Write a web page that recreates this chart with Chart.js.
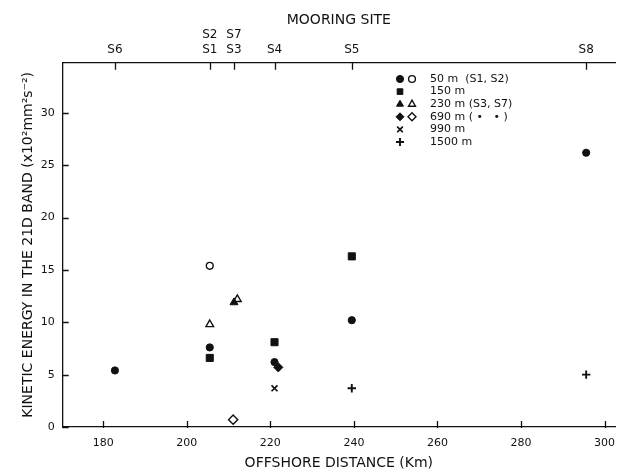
<!DOCTYPE html>
<html>
<head>
<meta charset="utf-8">
<title>Kinetic energy vs offshore distance</title>
<script src="https://cdn.jsdelivr.net/npm/chart.js"></script>
<style>
  html, body { margin: 0; padding: 0; background: #fff; }
  #wrap { width: 629px; height: 472px; }
</style>
</head>
<body>
<div id="wrap"><canvas id="keChart" width="629" height="472"></canvas></div>
<script>
// offshore distance (km) and kinetic energy (x10^2 mm^2 s^-2) per depth
var m50Km = [182.8, 205.5, 221.0, 239.5, 295.6];
var m50Ke = [5.4, 7.6, 6.2, 10.2, 26.2];
var m50OpenKm = [205.5];
var m50OpenKe = [15.4];
var m150Km = [205.5, 221.0, 239.5];
var m150Ke = [6.6, 8.1, 16.3];
var m230Km = [211.3];
var m230Ke = [11.9];
var m230OpenKm = [205.5, 212.1];
var m230OpenKe = [9.8, 12.2];
var m690Km = [221.9];
var m690Ke = [5.7];
var m690OpenKm = [211.1];
var m690OpenKe = [0.7];
var m990Km = [221.0];
var m990Ke = [3.7];
var m1500Km = [239.5, 295.6];
var m1500Ke = [3.7, 5.0];

// mooring sites along the top axis
var siteKm = [182.8, 205.5, 211.3, 221.0, 239.5, 295.6];
var siteLabels = [['S6'], ['S2', 'S1'], ['S7', 'S3'], ['S4'], ['S5'], ['S8']];

var xTicks = [180, 200, 220, 240, 260, 280, 300];
var yTicks = [0, 5, 10, 15, 20, 25, 30];

var legendLabels = ['50 m  (S1, S2)', '150 m', '230 m (S3, S7)', '690 m ( \u2022   \u2022 )', '990 m', '1500 m'];

var FONT = "'DejaVu Sans', sans-serif";
var INK = '#111';

function pts(xs, ys) {
  return xs.map(function(x, i) { return {x: x, y: ys[i]}; });
}

function series(xs, ys, style, radius, open) {
  return {
    data: pts(xs, ys),
    pointStyle: style,
    pointRadius: radius,
    pointHoverRadius: radius,
    pointBackgroundColor: open ? '#fff' : INK,
    pointBorderColor: INK,
    pointBorderWidth: open ? 1.4 : 1,
    showLine: false
  };
}

var ds = {
  c50: series(m50Km, m50Ke, 'circle', 3.6, false),
  c50o: series(m50OpenKm, m50OpenKe, 'circle', 3.4, true),
  s150: series(m150Km, m150Ke, 'rect', 5, false),
  t230: series(m230Km, m230Ke, 'triangle', 4.6, false),
  t230o: series(m230OpenKm, m230OpenKe, 'triangle', 4.4, true),
  d690: series(m690Km, m690Ke, 'rectRot', 4.6, false),
  d690o: series(m690OpenKm, m690OpenKe, 'rectRot', 4.6, true),
  x990: series(m990Km, m990Ke, 'crossRot', 4.2, false),
  p1500: series(m1500Km, m1500Ke, 'cross', 4.2, false)
};
ds.x990.pointBorderWidth = 1.7;
ds.p1500.pointBorderWidth = 1.9;

// two markers per row, so the legend is drawn by hand
var legendRows = [
  [ds.c50, ds.c50o],
  [ds.s150],
  [ds.t230, ds.t230o],
  [ds.d690, ds.d690o],
  [ds.x990],
  [ds.p1500]
];

var tickFont = {family: FONT, size: 11};

// inward tick marks and the drawn legend
var extras = {
  id: 'extras',
  afterDraw: function(chart) {
    var ctx = chart.ctx;
    var area = chart.chartArea;
    var sx = chart.scales.x, sy = chart.scales.y, st = chart.scales.x2;
    ctx.save();
    ctx.strokeStyle = INK;
    ctx.lineWidth = 1.3;
    ctx.beginPath();
    sx.ticks.forEach(function(t) {
      var px = Math.round(sx.getPixelForValue(t.value)) + 0.5;
      ctx.moveTo(px, area.bottom + 1);
      ctx.lineTo(px, area.bottom - 6);
    });
    st.ticks.forEach(function(t) {
      var px = Math.round(st.getPixelForValue(t.value)) + 0.5;
      ctx.moveTo(px, area.top);
      ctx.lineTo(px, area.top + 7);
    });
    sy.ticks.forEach(function(t) {
      var py = Math.round(sy.getPixelForValue(t.value)) + 0.5;
      ctx.moveTo(area.left, py);
      ctx.lineTo(area.left + 6, py);
    });
    ctx.stroke();

    var x0 = 400, rowY = 79, rowH = 12.6;
    ctx.font = '11px ' + FONT;
    ctx.textBaseline = 'middle';
    ctx.textAlign = 'left';
    legendRows.forEach(function(row, i) {
      var y = rowY + i * rowH;
      row.forEach(function(d, j) {
        ctx.fillStyle = d.pointBackgroundColor;
        ctx.strokeStyle = d.pointBorderColor;
        ctx.lineWidth = d.pointBorderWidth;
        Chart.helpers.drawPoint(ctx, {
          pointStyle: d.pointStyle,
          radius: Math.min(d.pointRadius, 4),
          rotation: 0,
          borderWidth: d.pointBorderWidth
        }, x0 + j * 12, y);
      });
      ctx.fillStyle = INK;
      ctx.fillText(legendLabels[i], x0 + 30, y);
    });
    ctx.restore();
  }
};

var chart = new Chart(document.getElementById('keChart'), {
  type: 'scatter',
  data: {
    datasets: [ds.c50, ds.c50o, ds.s150, ds.t230, ds.t230o, ds.d690, ds.d690o, ds.x990, ds.p1500]
  },
  options: {
    responsive: false,
    animation: false,
    layout: {padding: {left: 0, right: 14, top: 0, bottom: 0}},
    plugins: {legend: {display: false}, tooltip: {enabled: false}},
    scales: {
      x: {
        type: 'linear',
        position: 'bottom',
        min: 170.3,
        max: 302.5,
        afterBuildTicks: function(s) { s.ticks = xTicks.map(function(v) { return {value: v}; }); },
        afterFit: function(s) { s.height = 45; },
        grid: {drawOnChartArea: false, drawTicks: false},
        border: {color: INK, width: 1.3},
        ticks: {color: INK, font: tickFont, padding: 10},
        title: {display: true, text: 'OFFSHORE DISTANCE (Km)', color: INK,
                font: {family: FONT, size: 14}, padding: {top: 0, bottom: 0}}
      },
      x2: {
        type: 'linear',
        position: 'top',
        min: 170.3,
        max: 302.5,
        afterBuildTicks: function(s) { s.ticks = siteKm.map(function(v) { return {value: v}; }); },
        afterFit: function(s) { s.height = 62.7; },
        grid: {drawOnChartArea: false, drawTicks: false},
        border: {color: INK, width: 1.3},
        ticks: {
          color: INK,
          font: {family: FONT, size: 12},
          padding: 6,
          maxRotation: 0,
          autoSkip: false,
          callback: function(v, i) { return siteLabels[i]; }
        },
        title: {display: true, text: 'MOORING SITE', color: INK,
                font: {family: FONT, size: 14}, padding: {top: 12, bottom: 0}}
      },
      y: {
        type: 'linear',
        min: 0,
        max: 34.8,
        afterBuildTicks: function(s) { s.ticks = yTicks.map(function(v) { return {value: v}; }); },
        afterFit: function(s) { s.width = 62.7; },
        grid: {drawOnChartArea: false, drawTicks: false},
        border: {color: INK, width: 1.3},
        ticks: {color: INK, font: tickFont, padding: 8},
        title: {display: true, text: 'KINETIC ENERGY IN THE 21D BAND (x10\u00b2mm\u00b2s\u207b\u00b2)', color: INK,
                font: {family: FONT, size: 14}, padding: {top: 20, bottom: 0}}
      }
    }
  },
  plugins: [extras]
});
</script>
</body>
</html>
